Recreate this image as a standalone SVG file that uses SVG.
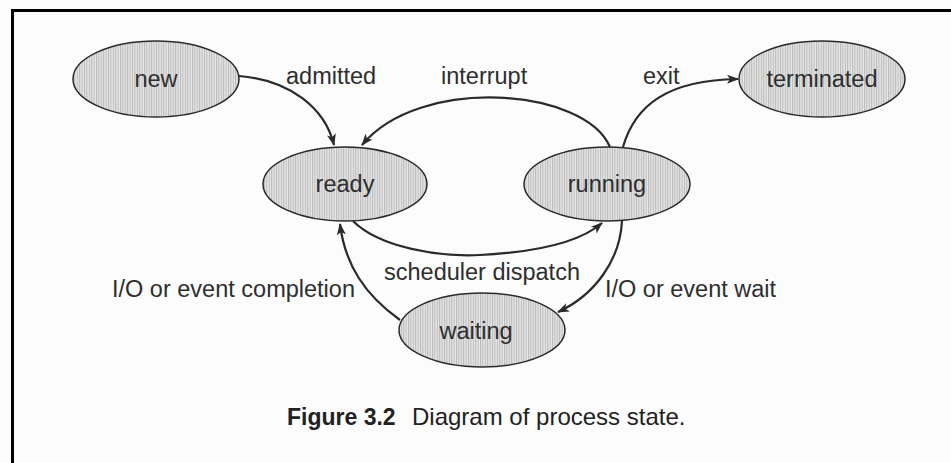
<svg xmlns="http://www.w3.org/2000/svg" width="951" height="463" viewBox="0 0 951 463">
<style>
.node ellipse{fill:url(#hatch);stroke:#2a2a2a;stroke-width:1.5}
.lbl{font-family:"Liberation Sans",Arial,sans-serif;font-size:23.5px;fill:#2e2e2e}
.conn path{fill:none;stroke:#2a2a2a;stroke-width:2.2;marker-end:url(#arr)}
.cap{font-family:"Liberation Sans",Arial,sans-serif;font-size:24px;fill:#222}
.capb{font-family:"Liberation Sans",Arial,sans-serif;font-size:23px;font-weight:bold;fill:#222}
</style>
<defs>
<pattern id="hatch" width="2.4" height="10" patternUnits="userSpaceOnUse">
<rect width="2.4" height="10" fill="#e6e6e6"/>
<rect width="1" height="10" fill="#b9b9b9"/>
</pattern>
<marker id="arr" viewBox="0 0 12 10" refX="11" refY="5" markerWidth="12" markerHeight="10" markerUnits="userSpaceOnUse" orient="auto">
<path d="M0,0.5 L12,5 L0,9.5 L3,5 Z" fill="#2a2a2a"/>
</marker>
</defs>
<rect width="951" height="463" fill="#fcfcfc"/>
<path d="M12.5,463 V10.5 H951" fill="none" stroke="#000" stroke-width="3"/>
<g id="connectors" class="conn">
<path id="e-admitted" d="M239,76 C290,80 325,108 334,145"/>
<path id="e-interrupt" d="M610,147 C585,88 420,75 362,145"/>
<path id="e-exit" d="M623,147 C635,105 668,80 738,79"/>
<path id="e-dispatch" d="M353,221 C380,248 440,257 480,255 C540,252 580,242 602,223"/>
<path id="e-wait" d="M622,221 C620,260 595,295 558,312"/>
<path id="e-completion" d="M400,320 C365,295 345,265 340,224"/>
</g>
<g id="labels">
<text class="lbl" x="286" y="84">admitted</text>
<text class="lbl" x="441" y="84">interrupt</text>
<text class="lbl" x="643" y="84">exit</text>
<text class="lbl" x="384" y="280">scheduler dispatch</text>
<text class="lbl" x="112" y="297">I/O or event completion</text>
<text class="lbl" x="605" y="297">I/O or event wait</text>
</g>
<g id="new" class="node"><ellipse cx="156" cy="79" rx="83" ry="38"/><text class="lbl" x="156" y="87" text-anchor="middle">new</text></g>
<g id="ready" class="node"><ellipse cx="345" cy="184" rx="82" ry="37"/><text class="lbl" x="345" y="192" text-anchor="middle">ready</text></g>
<g id="running" class="node"><ellipse cx="607" cy="184" rx="83" ry="37"/><text class="lbl" x="607" y="192" text-anchor="middle">running</text></g>
<g id="terminated" class="node"><ellipse cx="822" cy="79" rx="83" ry="38"/><text class="lbl" x="822" y="87" text-anchor="middle">terminated</text></g>
<g id="waiting" class="node"><ellipse cx="482" cy="330" rx="83" ry="37"/><text class="lbl" x="476" y="339" text-anchor="middle">waiting</text></g>
<g id="caption">
<text class="capb" x="287" y="425">Figure 3.2</text>
<text class="cap" x="412" y="425">Diagram of process state.</text>
</g>
</svg>
